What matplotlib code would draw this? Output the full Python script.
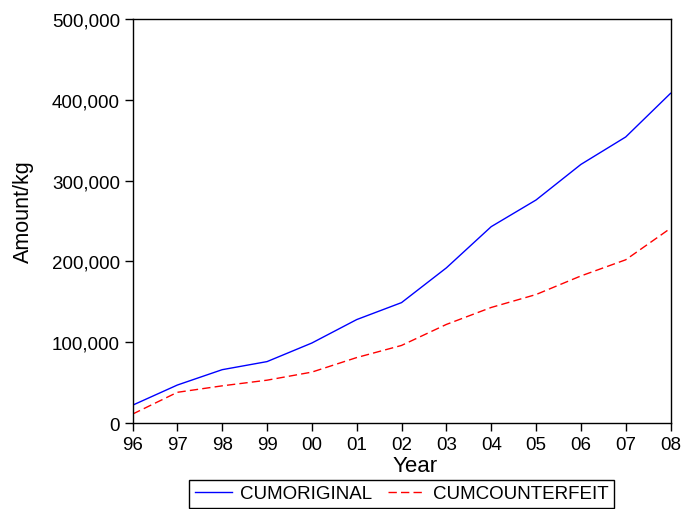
import matplotlib.pyplot as plt
from matplotlib.ticker import FuncFormatter

plt.rcParams['font.family'] = ['Liberation Sans', 'DejaVu Sans']

# Data
years = ['96', '97', '98', '99', '00', '01', '02', '03', '04', '05', '06', '07', '08']
cum_original = [22000, 47000, 66000, 76000, 99000, 128000, 149000, 192000,
                243000, 276000, 320000, 354000, 408000]
cum_counterfeit = [11000, 38000, 46000, 53000, 63000, 81000, 96000, 122000,
                   143000, 159000, 182000, 202000, 241000]

x = list(range(len(years)))

fig = plt.figure(figsize=(6.82, 5.10), dpi=100)
ax = fig.add_axes([0.1943, 0.1686, 0.7889, 0.7922])

ax.plot(x, cum_original, color='#0000ff', linewidth=1.0, label='CUMORIGINAL')
ax.plot(x, cum_counterfeit, color='#ff0000', linewidth=1.0,
        linestyle=(0, (6, 3)), label='CUMCOUNTERFEIT')

ax.set_xlim(0, len(years) - 1)
ax.set_ylim(0, 500000)
ax.set_xticks(x)
ax.set_xticklabels(years)
ax.set_yticks(range(0, 500001, 100000))
ax.yaxis.set_major_formatter(FuncFormatter(lambda v, p: f'{int(v):,}'))

ax.tick_params(direction='out', length=5.5, width=1, labelsize=13.5, pad=3.5)
for s in ax.spines.values():
    s.set_linewidth(1.0)

ax.set_xlabel('Year', fontsize=16)
ax.xaxis.set_label_coords(0.525, -0.08)
ax.set_ylabel('Amount/kg', fontsize=15.5)
ax.yaxis.set_label_coords(-0.183, 0.525)

leg = fig.legend(loc='lower center', bbox_to_anchor=(0.5887, 0.002), ncol=2,
                 fontsize=13.5, frameon=True, fancybox=False, framealpha=1,
                 edgecolor='black', handlelength=2.0, columnspacing=0.85,
                 borderpad=0.3, handletextpad=0.4, borderaxespad=0.0)
leg.get_frame().set_linewidth(1.0)

fig.savefig('out.png', dpi=100)
